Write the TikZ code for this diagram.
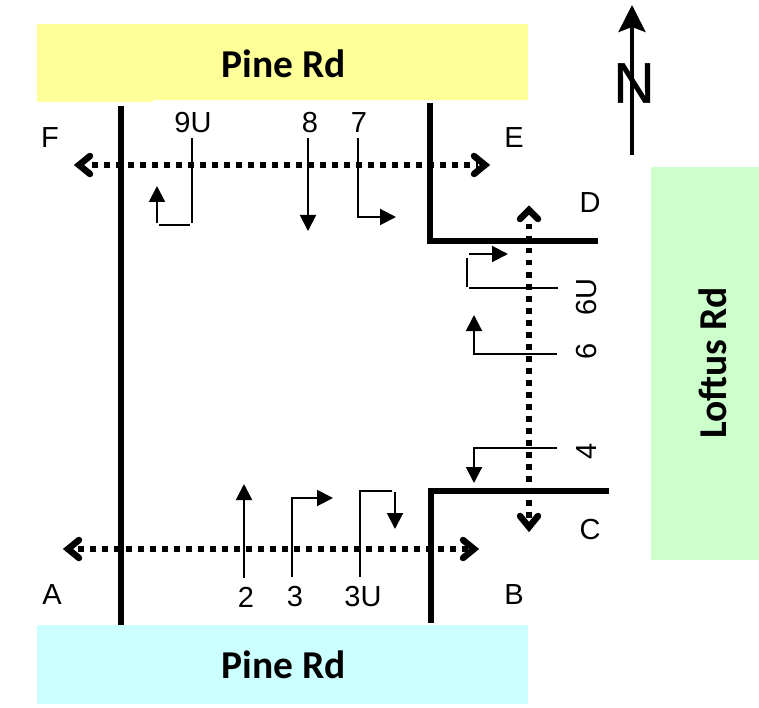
\documentclass[tikz,border=0pt]{standalone}
\usepackage{fontspec}
\setmainfont{Liberation Sans}
\newfontfamily\roadfont{Carlito}
\newfontfamily\northfont[FakeBold=0.6]{Liberation Sans}
\usetikzlibrary{arrows.meta}
\definecolor{padyellow}{HTML}{FFFF99}
\definecolor{padblue}{HTML}{CCFFFF}
\definecolor{padgreen}{HTML}{CCFFCC}
\tikzset{
  road/.style={line width=6pt,draw=black,line cap=butt},
  walk/.style={line width=6pt,draw=black,dash pattern=on 5.5pt off 6.5pt,line cap=butt},
  walkhead/.style={line width=6.5pt,draw=black,line cap=round,line join=miter},
  move/.style={line width=2pt,draw=black,-{Triangle[length=16pt,width=16pt]}},
  stub/.style={line width=2pt,draw=black},
  lab/.style={font=\fontsize{29}{29}\selectfont,inner sep=0pt,text=black},
  roadname/.style={inner sep=0pt,font=\roadfont\bfseries\fontsize{39.5}{39.5}\selectfont,text=black}
}
\begin{document}
\begin{tikzpicture}[x=1pt,y=-1pt]
\useasboundingbox (0,0) rectangle (759,708);
% road areas
\fill[padyellow] (37,24) rectangle (528,100);
\fill[padyellow] (37,100) rectangle (153,102);
\fill[padblue] (37,625) rectangle (528,704);
\fill[padgreen] (651,167) rectangle (759,560);
\node[roadname] (pineN) at (284,64) {Pine Rd};
\node[roadname] (pineS) at (284,665) {Pine Rd};
\node[roadname,rotate=90] (loftus) at (713,363) {Loftus Rd};
% kerbs
\draw[road] (121,106) -- (121,625);
\draw[road] (430,103) -- (430,243.5);
\draw[road] (427,241) -- (598,241);
\draw[road] (431,489) -- (431,623);
\draw[road] (428,491) -- (609,491);
% crossings
\coordinate (Fw) at (79,165); \coordinate (Ee) at (485,165);
\coordinate (Aw) at (68,549); \coordinate (Be) at (474,549);
\coordinate (Dn) at (529,210); \coordinate (Cs) at (529,527);
\draw[walk] (92,165) -- (478,165);
\draw[walk] (78,549) -- (468,549);
\draw[walk] (529,224) -- (529,518);
\draw[walkhead] (90,156) -- (Fw) -- (90,174);
\draw[walkhead] (474,156) -- (Ee) -- (474,174);
\draw[walkhead] (79,540) -- (Aw) -- (79,558);
\draw[walkhead] (463,540) -- (Be) -- (463,558);
\draw[walkhead] (520,219) -- (Dn) -- (538,219);
\draw[walkhead] (520,516) -- (Cs) -- (538,516);
% compass
\coordinate (nS) at (632,155); \coordinate (nT) at (632,5);
\node[inner sep=0pt,font=\northfont\fontsize{57}{57}\selectfont] (north) at (634,83) {N};
\draw[line width=4pt,-{Stealth[length=27pt,width=27pt,inset=5pt]}] (nS) -- (nT);
% movements
\coordinate (a9a) at (192,138); \coordinate (a9b) at (192,223);
\coordinate (a9c) at (190,225); \coordinate (a9d) at (159,225);
\coordinate (a9e) at (157,223); \coordinate (a9f) at (157,186);
\draw[stub] (a9a) -- (a9b); \draw[stub] (a9c) -- (a9d); \draw[move] (a9e) -- (a9f);
\coordinate (a8a) at (308,138); \coordinate (a8b) at (308,231);
\draw[move] (a8a) -- (a8b);
\coordinate (a7a) at (358,138); \coordinate (a7b) at (358,217); \coordinate (a7c) at (396,217);
\draw[move] (a7a) -- (a7b) -- (a7c);
\coordinate (b6a) at (558,288); \coordinate (b6b) at (469,288);
\coordinate (b6c) at (467,287); \coordinate (b6d) at (467,258);
\coordinate (b6e) at (469,254); \coordinate (b6f) at (508,254);
\draw[stub] (b6a) -- (b6b); \draw[stub] (b6c) -- (b6d); \draw[move] (b6e) -- (b6f);
\coordinate (c6a) at (557,354); \coordinate (c6b) at (474,354); \coordinate (c6c) at (474,315);
\draw[move] (c6a) -- (c6b) -- (c6c);
\coordinate (c4a) at (557,448); \coordinate (c4b) at (474,448); \coordinate (c4c) at (474,483);
\draw[move] (c4a) -- (c4b) -- (c4c);
\coordinate (d2a) at (244,578); \coordinate (d2b) at (244,484);
\draw[move] (d2a) -- (d2b);
\coordinate (d3a) at (292,577); \coordinate (d3b) at (292,498); \coordinate (d3c) at (333,498);
\draw[move] (d3a) -- (d3b) -- (d3c);
\coordinate (e3a) at (360,577); \coordinate (e3b) at (360,491); \coordinate (e3c) at (392,491);
\coordinate (e3d) at (395,492); \coordinate (e3e) at (395,529);
\draw[stub] (e3a) -- (e3b) -- (e3c); \draw[move] (e3d) -- (e3e);
% labels
\node[lab] (lF) at (50,138) {F};
\node[lab] (lE) at (514,138) {E};
\node[lab] (lD) at (590,203) {D};
\node[lab] (lC) at (590,530) {C};
\node[lab] (lA) at (52,595) {A};
\node[lab] (lB) at (514,595) {B};
\node[lab] (l9U) at (193,123) {9U};
\node[lab] (l8) at (310,123) {8};
\node[lab] (l7) at (359,123) {7};
\node[lab] (l2) at (246,597) {2};
\node[lab] (l3) at (295,597) {3};
\node[lab] (l3U) at (363,597) {3U};
\node[lab,rotate=90] (l6U) at (587,297) {6U};
\node[lab,rotate=90] (l6) at (587,351) {6};
\node[lab,rotate=90] (l4) at (587,451) {4};
\end{tikzpicture}
\end{document}
